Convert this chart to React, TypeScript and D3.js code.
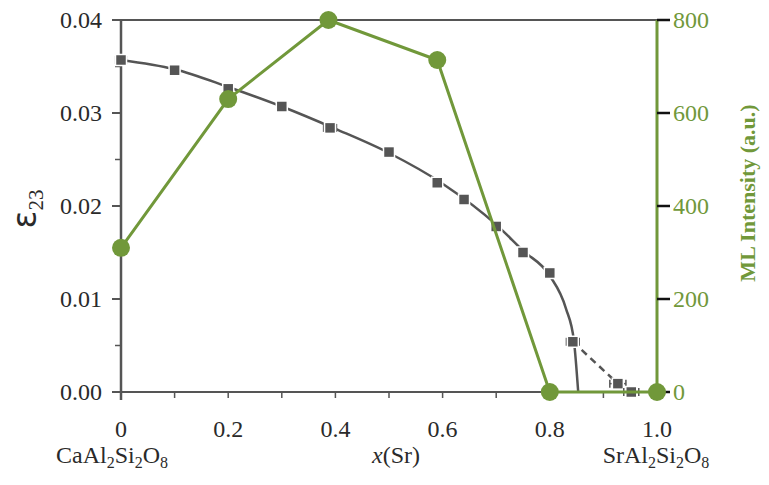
import React from 'react';
import * as d3 from 'd3';

// ML intensity (green, right axis)
const mlX = [0, 0.2, 0.387, 0.59, 0.8, 1.0];
const mlIntensity = [310, 630, 800, 714, 0, 0];

// strain eps23 (grey squares, left axis)
const strainX = [0, 0.1, 0.2, 0.3, 0.39, 0.5, 0.59, 0.64, 0.7, 0.75, 0.8, 0.843, 0.927, 0.952];
const strainY = [0.0357, 0.0346, 0.0326, 0.0307, 0.0284, 0.0258, 0.0225, 0.0207, 0.0178, 0.015, 0.0128, 0.0054, 0.0009, 0.0];
const strainXErr = [0.01, 0, 0, 0, 0.012, 0, 0, 0, 0, 0, 0, 0.012, 0.015, 0.014];

// fitted guide curve (solid) and dashed continuation
const fitX = [0, 0.1, 0.2, 0.3, 0.4, 0.5, 0.6, 0.7, 0.75, 0.8, 0.83, 0.845, 0.853];
const fitY = [0.0357, 0.0347, 0.0328, 0.0307, 0.0283, 0.0257, 0.0224, 0.018, 0.0152, 0.0125, 0.009, 0.0055, 0.0];
const dashX = [0.843, 0.927];
const dashY = [0.0054, 0.0009];

const xTicks = [0, 0.1, 0.2, 0.3, 0.4, 0.5, 0.6, 0.7, 0.8, 0.9, 1.0];
const xLabels = [0, 0.2, 0.4, 0.6, 0.8, 1.0];
const leftTicks = [0, 0.01, 0.02, 0.03, 0.04];
const leftMinor = [0.005, 0.015, 0.025, 0.035];
const rightTicks = [0, 200, 400, 600, 800];

const GREEN = '#71983a';
const GREY = '#555';
const FONT = '"Liberation Serif", "Times New Roman", serif';

const W = 769;
const H = 485;
const left = 121;
const right = 657;
const top = 20;
const bottom = 392;

export default function App() {
  const x = d3.scaleLinear().domain([0, 1]).range([left, right]);
  const yL = d3.scaleLinear().domain([0, 0.04]).range([bottom, top]);
  const yR = d3.scaleLinear().domain([0, 800]).range([bottom, top]);

  const fitLine = d3.line<number>()
    .x((d, i) => x(fitX[i]))
    .y((d) => yL(d))
    .curve(d3.curveMonotoneX);
  const dashLine = d3.line<number>()
    .x((d, i) => x(dashX[i]))
    .y((d) => yL(d));
  const mlLine = d3.line<number>()
    .x((d, i) => x(mlX[i]))
    .y((d) => yR(d));

  return (
    <div style={{ position: 'absolute', left: 0, top: 0 }}>
      <svg width={W} height={H} style={{ display: 'block', background: '#fff' }} fontFamily={FONT}>
        {/* frame */}
        <line x1={left} x2={right} y1={top} y2={top} stroke={GREY} strokeWidth={2} />
        <line x1={left - 9} x2={right} y1={bottom} y2={bottom} stroke={GREY} strokeWidth={2} />
        <line x1={left} x2={left} y1={top} y2={bottom + 8} stroke={GREY} strokeWidth={2.5} />

        {/* x ticks */}
        {xTicks.map((t) => (
          <line key={t} x1={x(t)} x2={x(t)} y1={bottom} y2={bottom + 6} stroke={GREY} strokeWidth={1.5} />
        ))}
        {xLabels.map((t) => (
          <text key={t} x={x(t)} y={437} textAnchor="middle" fontSize={24} fill="#2a2a2a">
            {t === 0 ? '0' : t.toFixed(1)}
          </text>
        ))}

        {/* left axis */}
        {leftTicks.map((t) => (
          <g key={t}>
            <line x1={left - 9} x2={left} y1={yL(t)} y2={yL(t)} stroke={GREY} strokeWidth={2} />
            <text x={102} y={yL(t) + 8} textAnchor="end" fontSize={24} fill="#2a2a2a">{t.toFixed(2)}</text>
          </g>
        ))}
        {leftMinor.map((t) => (
          <line key={t} x1={left - 6} x2={left} y1={yL(t)} y2={yL(t)} stroke={GREY} strokeWidth={1.5} />
        ))}
        <text transform="translate(36,209) rotate(-90)" textAnchor="middle" fill="#2a2a2a">
          <tspan fontSize={33} fontFamily='"DejaVu Sans", sans-serif'>ε</tspan>
          <tspan fontSize={21} dy={7}>23</tspan>
        </text>

        {/* right axis */}
        <line x1={right} x2={right} y1={top} y2={bottom} stroke={GREEN} strokeWidth={3} />
        {rightTicks.map((t) => (
          <g key={t}>
            <line x1={right} x2={right + 13} y1={yR(t)} y2={yR(t)} stroke="#111" strokeWidth={2.5} />
            <text x={673} y={yR(t) + 8} fontSize={24} fill={GREEN}>{t}</text>
          </g>
        ))}
        <text transform="translate(755,193) rotate(-90)" textAnchor="middle" fontSize={22}
          fontWeight="bold" fill={GREEN}>ML Intensity (a.u.)</text>

        {/* bottom labels */}
        <text x={112} y={463} textAnchor="middle" fontSize={24} fill="#2a2a2a">
          CaAl<tspan fontSize={16} dy={5}>2</tspan><tspan dy={-5}>Si</tspan>
          <tspan fontSize={16} dy={5}>2</tspan><tspan dy={-5}>O</tspan><tspan fontSize={16} dy={5}>8</tspan>
        </text>
        <text x={396} y={463} textAnchor="middle" fontSize={24} fill="#2a2a2a">
          <tspan fontStyle="italic">x</tspan>(Sr)
        </text>
        <text x={656} y={463} textAnchor="middle" fontSize={24} fill="#2a2a2a">
          SrAl<tspan fontSize={16} dy={5}>2</tspan><tspan dy={-5}>Si</tspan>
          <tspan fontSize={16} dy={5}>2</tspan><tspan dy={-5}>O</tspan><tspan fontSize={16} dy={5}>8</tspan>
        </text>

        {/* strain curve */}
        <path d={fitLine(fitY) ?? ''} fill="none" stroke={GREY} strokeWidth={2.5} />
        <path d={dashLine(dashY) ?? ''} fill="none" stroke={GREY} strokeWidth={2.5} strokeDasharray="7,5" />
        {strainX.map((sx, i) => (
          <g key={i}>
            {strainXErr[i] > 0 && (
              <g stroke={GREY} strokeWidth={1.5}>
                <line x1={x(sx - strainXErr[i])} x2={x(sx + strainXErr[i])} y1={yL(strainY[i])} y2={yL(strainY[i])} />
                <line x1={x(sx - strainXErr[i])} x2={x(sx - strainXErr[i])} y1={yL(strainY[i]) - 4} y2={yL(strainY[i]) + 4} />
                <line x1={x(sx + strainXErr[i])} x2={x(sx + strainXErr[i])} y1={yL(strainY[i]) - 4} y2={yL(strainY[i]) + 4} />
              </g>
            )}
            <rect x={x(sx) - 5.5} y={yL(strainY[i]) - 5.5} width={11} height={11} fill={GREY}
              stroke="#fff" strokeWidth={1.5} />
          </g>
        ))}

        {/* ML intensity */}
        <path d={mlLine(mlIntensity) ?? ''} fill="none" stroke={GREEN} strokeWidth={3} />
        {mlX.map((mx, i) => (
          <circle key={i} cx={x(mx)} cy={yR(mlIntensity[i])} r={9} fill={GREEN} />
        ))}
      </svg>
    </div>
  );
}
